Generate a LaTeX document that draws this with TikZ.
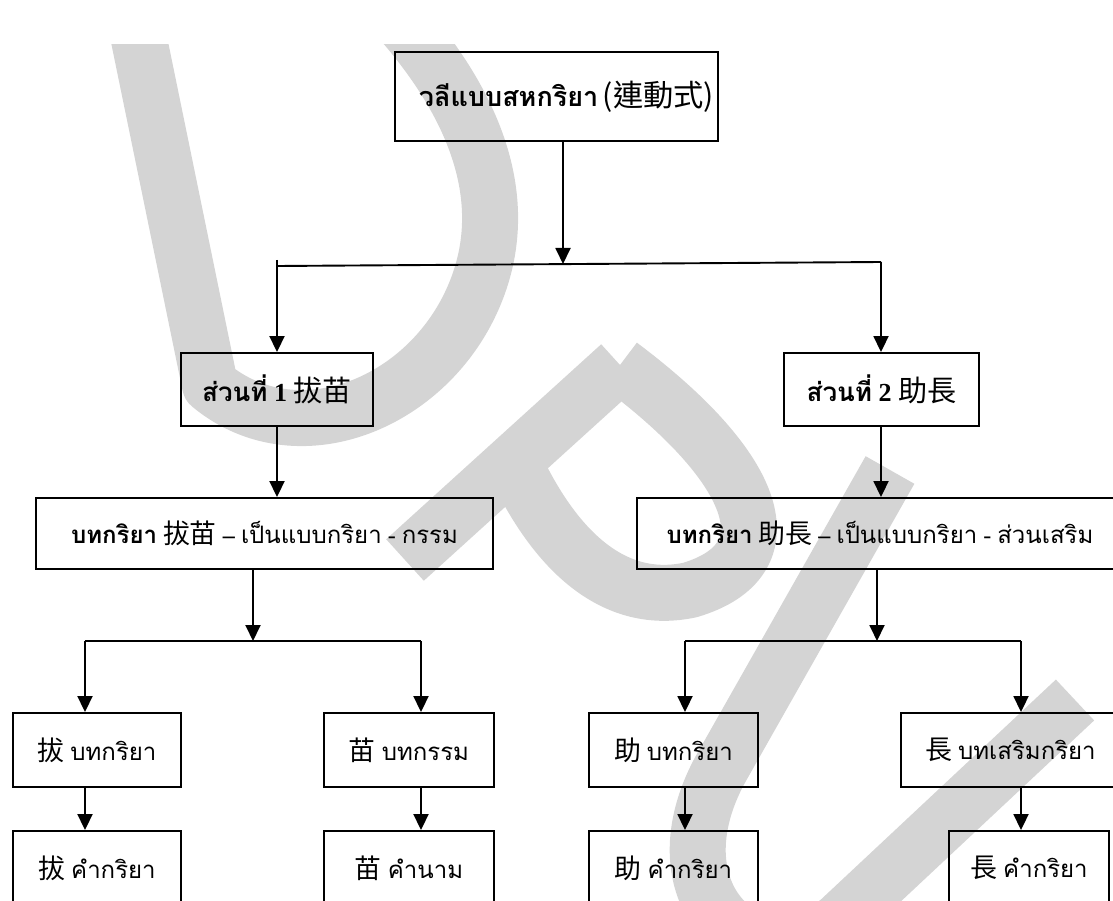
\documentclass[tikz,border=0pt]{standalone}
\usepackage{fontspec}
\setmainfont{Liberation Serif}
\newfontfamily\thaifont[Script=Thai]{Loma}
\newfontfamily\cjkfont[Scale=1.12]{Noto Sans CJK TC}
\usetikzlibrary{arrows.meta,calc}
\newcommand\thaitext[1]{{\thaifont #1}}
\newcommand\thaibold[1]{{\thaifont\bfseries #1}}
\newcommand\hanzi[1]{{\cjkfont #1}}
\definecolor{wmgray}{HTML}{D4D4D4}
\tikzset{
  box/.style={draw=black, line width=1.9pt, inner sep=0pt, align=center,
    font=\fontsize{24}{28}\selectfont},
  conn/.style={line width=1.9pt, draw=black},
  arr/.style={conn, -{Triangle[length=16pt,width=15pt]}},
  wm/.style={draw=wmgray, line width=56pt, line cap=butt, line join=round}
}
\begin{document}
\begin{tikzpicture}[x=1pt, y=-1pt]
\useasboundingbox (0,0) rectangle (1113,901);

% watermark letters (light gray, behind everything)
\begin{scope}
  \clip (0,45) rectangle (1113,901);
  % D
  \draw[wm] (135,20) -- (210,385)
            .. controls (300,460) and (440,400) .. (480,280)
            .. controls (510,190) and (470,100) .. (400,20);
  % P
  \draw[wm] (405,560) -- (620,365);
  \draw[wm] (620,365) .. controls (760,470) and (790,560) .. (690,590)
            .. controls (620,605) and (560,560) .. (515,465);
  % U
  \draw[wm] (890,470) -- (720,770) .. controls (650,900) and (760,990) .. (840,920)
            -- (1075,700);
\end{scope}

% boxes
\node[box, minimum width=323pt, minimum height=89pt, text width=315pt, align=right]
  (top) at (556.5,96.5)
  {\fontsize{27}{30}\selectfont\thaibold{วลีแบบสหกริยา}\,\hanzi{(連動式)}};

\node[box, minimum width=192pt, minimum height=73pt, font=\fontsize{26}{30}\selectfont]
  (p1) at (277,389.5)
  {\thaibold{ส่วนที่} \textbf{1} \hanzi{拔苗}};
\node[box, minimum width=195pt, minimum height=73pt, font=\fontsize{26}{30}\selectfont]
  (p2) at (881.5,389.5)
  {\thaibold{ส่วนที่} \textbf{2} \hanzi{助長}};

\node[box, minimum width=457pt, minimum height=71pt] (v1) at (264.5,533.5)
  {\thaibold{บทกริยา} \hanzi{拔苗} \textbf{--} \thaitext{เป็นแบบกริยา} - \thaitext{กรรม}};
\node[box, minimum width=486pt, minimum height=71pt] (v2) at (880,533.5)
  {\thaibold{บทกริยา} \hanzi{助長} \textbf{--} \thaitext{เป็นแบบกริยา} - \thaitext{ส่วนเสริม}};

\node[box, minimum width=168pt, minimum height=74pt] (a1) at (97,750)
  {\hanzi{拔} \thaitext{บทกริยา}};
\node[box, minimum width=170pt, minimum height=74pt] (b1) at (409,750)
  {\hanzi{苗} \thaitext{บทกรรม}};
\node[box, minimum width=169pt, minimum height=74pt] (c1) at (673.5,750)
  {\hanzi{助} \thaitext{บทกริยา}};
\node[box, minimum width=219pt, minimum height=74pt] (d1) at (1010.5,750)
  {\hanzi{長} \thaitext{บทเสริมกริยา}};

\node[box, minimum width=168pt, minimum height=74pt] (a2) at (97,868)
  {\hanzi{拔} \thaitext{คำกริยา}};
\node[box, minimum width=170pt, minimum height=74pt] (b2) at (409,868)
  {\hanzi{苗} \thaitext{คำนาม}};
\node[box, minimum width=169pt, minimum height=74pt] (c2) at (673.5,868)
  {\hanzi{助} \thaitext{คำกริยา}};
\node[box, minimum width=160pt, minimum height=74pt] (d2) at (1029,868)
  {\hanzi{長} \thaitext{คำกริยา}};

% junction points
\coordinate (hl) at (277,266);
\coordinate (hlt) at (277,260);
\coordinate (hr) at (881,262);
\coordinate (j1) at (563,264);
\coordinate (jl) at (253,641);
\coordinate (jr) at (877,641);
\coordinate (la) at (85,641);
\coordinate (lb) at (421,641);
\coordinate (ra) at (685,641);
\coordinate (rb) at (1021,641);

% top split
\draw[arr] (top.south -| j1) -- (j1);
\draw[conn] (hl) -- (hr);
\draw[arr] (hlt) -- (p1.north -| hl);
\draw[arr] (hr) -- (p2.north -| hr);

% part boxes to verb boxes
\draw[arr] (p1.south -| hl) -- (v1.north -| hl);
\draw[arr] (p2.south -| hr) -- (v2.north -| hr);

% left branch
\draw[arr] (v1.south -| jl) -- (jl);
\draw[conn] (la) -- (lb);
\draw[arr] (la) -- (a1.north -| la);
\draw[arr] (lb) -- (b1.north -| lb);
\draw[arr] (a1.south -| la) -- (a2.north -| la);
\draw[arr] (b1.south -| lb) -- (b2.north -| lb);

% right branch
\draw[arr] (v2.south -| jr) -- (jr);
\draw[conn] (ra) -- (rb);
\draw[arr] (ra) -- (c1.north -| ra);
\draw[arr] (rb) -- (d1.north -| rb);
\draw[arr] (c1.south -| ra) -- (c2.north -| ra);
\draw[arr] (d1.south -| rb) -- (d2.north -| rb);
\end{tikzpicture}
\end{document}
